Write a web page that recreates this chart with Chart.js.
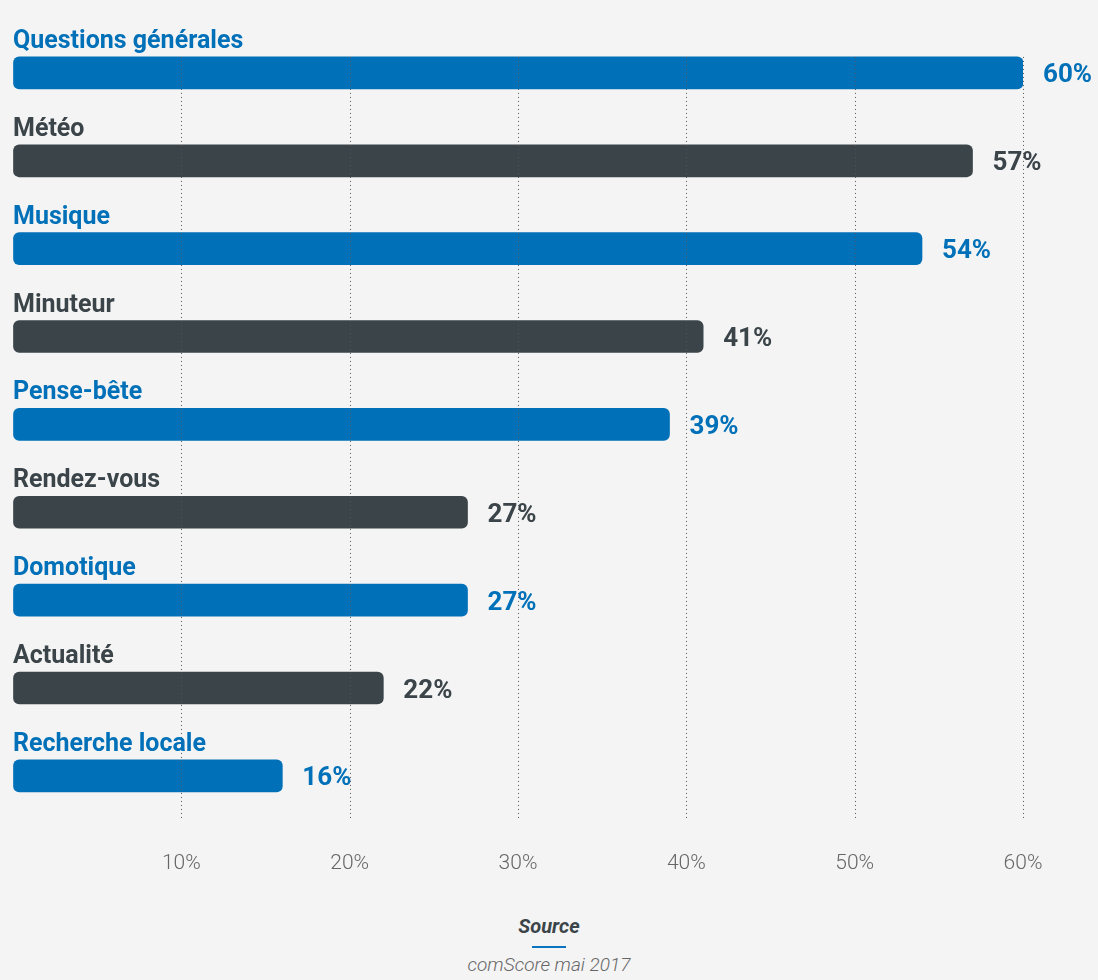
<!DOCTYPE html>
<html>
<head>
<meta charset="utf-8">
<script src="https://cdn.jsdelivr.net/npm/chart.js@4.4.1/dist/chart.umd.min.js"></script>
<style>
  * { margin: 0; padding: 0; box-sizing: border-box; }
  body {
    width: 1098px;
    height: 980px;
    background: #f4f4f4;
    font-family: Roboto, sans-serif;
    overflow: hidden;
  }
  .chart-box {
    position: relative;
    width: 1098px;
    height: 894px;
  }
  .source {
    text-align: center;
    color: #3a4449;
  }
  .source .title {
    margin-top: 20px;
    font-size: 20px;
    font-weight: 700;
    font-style: italic;
    line-height: 24px;
  }
  .source .line {
    width: 34px;
    height: 2px;
    background: #0a74c0;
    margin: 8px auto 6px;
  }
  .source .text {
    font-size: 19px;
    font-weight: 300;
    font-style: italic;
    color: #666;
    line-height: 22px;
  }
</style>
</head>
<body>
<div class="chart-box">
  <canvas id="chart"></canvas>
</div>
<div class="source">
  <div class="title">Source</div>
  <div class="line"></div>
  <div class="text">comScore mai 2017</div>
</div>

<script>
  // donnees
  const categories = ['Questions générales', 'Météo', 'Musique', 'Minuteur', 'Pense-bête',
    'Rendez-vous', 'Domotique', 'Actualité', 'Recherche locale'];
  const values = [60, 57, 54, 41, 39, 27, 27, 22, 16];
  const tickValues = [10, 20, 30, 40, 50, 60];

  const BLUE = '#0070b8';
  const DARK = '#3a4449';
  const colors = categories.map((c, i) => (i % 2 === 0 ? BLUE : DARK));

  // lignes pointillees + libelles au-dessus des barres + valeurs
  const barLabels = {
    id: 'barLabels',
    afterDatasetsDraw(chart) {
      const ctx = chart.ctx;
      const xScale = chart.scales.x;
      const meta = chart.getDatasetMeta(0);
      const first = meta.data[0];
      const top = first.y - first.height / 2;
      const bottom = chart.chartArea.bottom;

      ctx.save();
      ctx.strokeStyle = '#555';
      ctx.lineWidth = 1;
      ctx.setLineDash([1, 3]);
      tickValues.forEach(v => {
        const x = Math.round(xScale.getPixelForValue(v)) + 0.5;
        ctx.beginPath();
        ctx.moveTo(x, top);
        ctx.lineTo(x, bottom);
        ctx.stroke();
      });
      ctx.setLineDash([]);

      meta.data.forEach((bar, i) => {
        const barTop = bar.y - bar.height / 2;
        ctx.fillStyle = colors[i];
        ctx.font = '700 25px Roboto';
        ctx.textAlign = 'left';
        ctx.textBaseline = 'alphabetic';
        ctx.fillText(categories[i], xScale.getPixelForValue(0), barTop - 9);

        ctx.font = '700 26px Roboto';
        ctx.textBaseline = 'middle';
        ctx.fillText(values[i] + '%', bar.x + 20, bar.y + 3);
      });
      ctx.restore();
    }
  };

  new Chart(document.getElementById('chart'), {
    type: 'bar',
    data: {
      labels: categories,
      datasets: [{
        data: values,
        backgroundColor: colors,
        barThickness: 32,
        borderRadius: 6,
        borderSkipped: false,
      }],
    },
    options: {
      indexAxis: 'y',
      responsive: true,
      maintainAspectRatio: false,
      animation: false,
      layout: {
        padding: {left: 13, right: 75, top: 29, bottom: 15},
      },
      plugins: {
        legend: {display: false},
        tooltip: {enabled: false},
      },
      scales: {
        x: {
          min: 0,
          max: 60,
          // tickLength sert seulement d'espace sous la zone du graphique
          grid: {
            display: true,
            drawOnChartArea: false,
            drawTicks: true,
            tickLength: 28,
            tickColor: 'transparent',
          },
          border: {display: false},
          ticks: {
            stepSize: 10,
            padding: 3,
            color: '#666',
            font: {family: 'Roboto', size: 21, weight: '300'},
            callback: v => (v === 0 ? '' : v + '%'),
          },
        },
        y: {
          display: false,
        },
      },
    },
    plugins: [barLabels],
  });
</script>
</body>
</html>
